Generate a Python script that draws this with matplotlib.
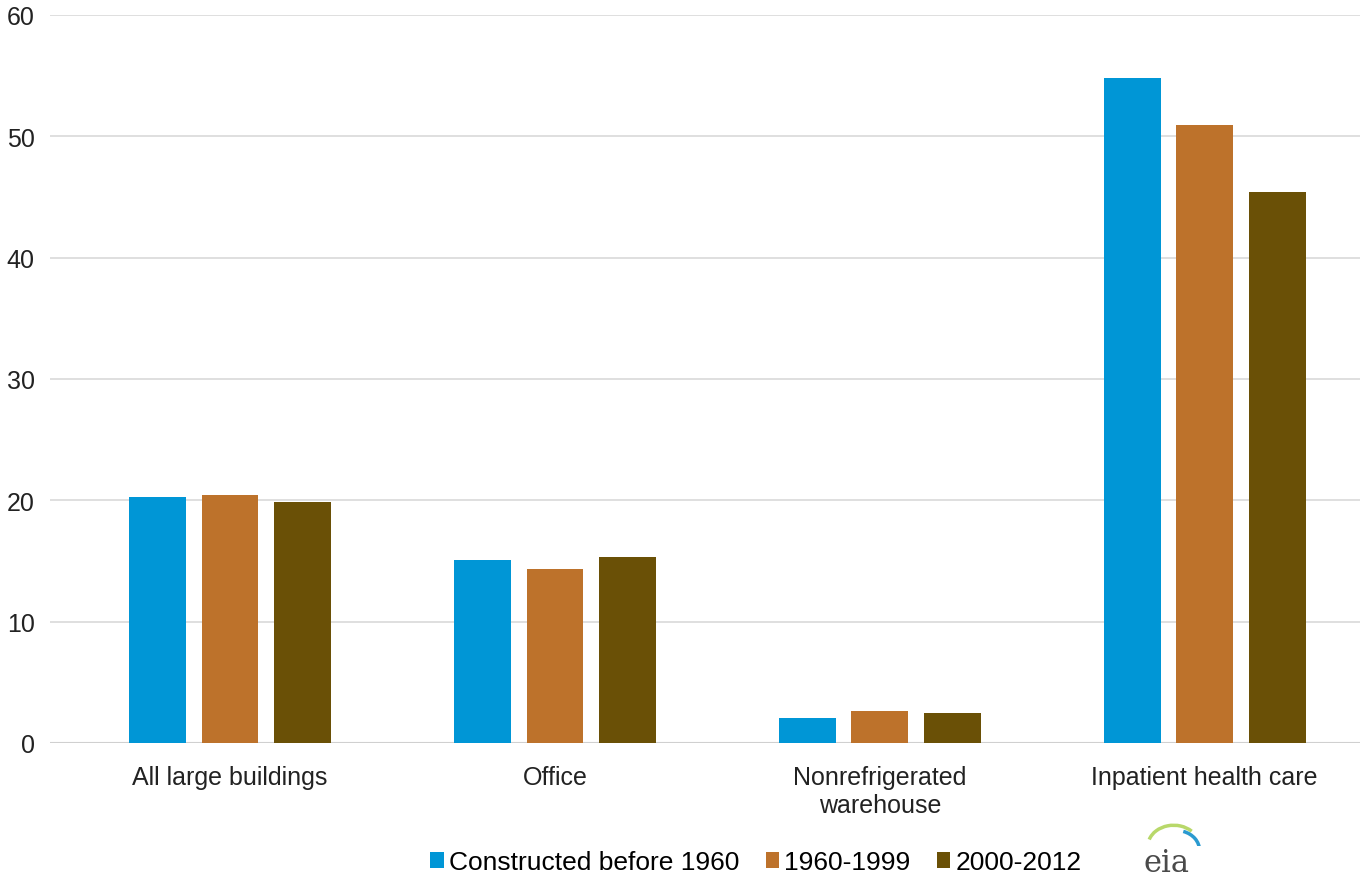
import numpy as np
import matplotlib.pyplot as plt
from matplotlib.patches import Arc

plt.rcParams['font.family'] = ['Liberation Sans', 'DejaVu Sans']

categories = ['All large buildings', 'Office', 'Nonrefrigerated\nwarehouse', 'Inpatient health care']
series_names = ['Constructed before 1960', '1960-1999', '2000-2012']
before_1960 = [20.3, 15.1, 2.1, 54.8]
y1960_1999 = [20.4, 14.3, 2.6, 50.9]
y2000_2012 = [19.9, 15.3, 2.5, 45.4]
colors = ['#0096d6', '#bd722b', '#6a5006']

fig = plt.figure(figsize=(13.6, 8.79), dpi=100)
ax = fig.add_axes([0.0368, 0.1536, 0.963, 0.8282])

x = np.arange(len(categories))
width = 0.175
step = 0.223
for i, (vals, name) in enumerate(zip([before_1960, y1960_1999, y2000_2012], series_names)):
    ax.bar(x + (i - 1) * step, vals, width, color=colors[i], label=name, zorder=3)

ax.set_ylim(0, 60)
ax.set_xlim(-0.554, 3.477)
ax.set_yticks(range(0, 61, 10))
ax.yaxis.grid(True, color='#d9d9d9', linewidth=1.2, zorder=0)
ax.axhline(0, color='#d0d0d0', linewidth=1.5, zorder=2)
for s in ax.spines.values():
    s.set_visible(False)
ax.tick_params(axis='y', length=0, labelsize=18, colors='#222222', pad=11)
ax.tick_params(axis='x', length=0, labelsize=18, colors='#222222', pad=16)
ax.set_xticks(x)
ax.set_xticklabels(categories, linespacing=1.2)

ax.legend(loc='center', bbox_to_anchor=(0.539, -0.164), ncol=3, frameon=False,
          fontsize=19, handlelength=0.5, handleheight=0.5, handletextpad=0.2,
          columnspacing=1.0, borderaxespad=0)

# small eia mark in the bottom corner
fig.text(0.8405, 0.008, 'eia', fontsize=22, family='DejaVu Serif', color='#4a4a4a')
logo = fig.add_axes([0.843, 0.036, 0.04, 0.03])
logo.set_xlim(0, 1)
logo.set_ylim(0, 1)
logo.axis('off')
logo.add_patch(Arc((0.5, 0.0), 0.95, 1.6, theta1=60, theta2=150, color='#b8d86a', linewidth=2.5))
logo.add_patch(Arc((0.55, -0.15), 0.85, 1.5, theta1=0, theta2=80, color='#2a9ad0', linewidth=2.5))

fig.savefig('out.png', dpi=100)
